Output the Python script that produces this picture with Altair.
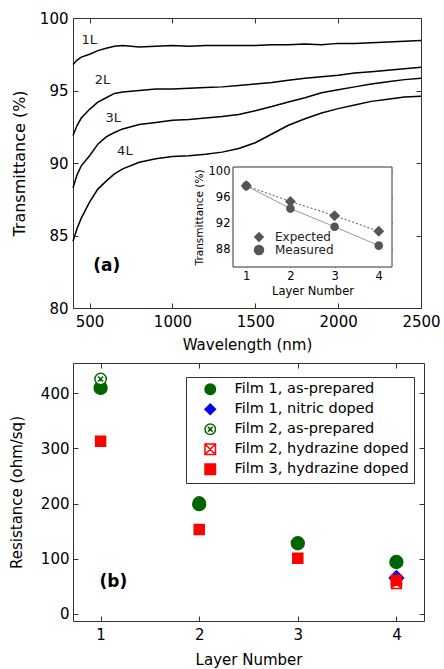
import altair as alt
import pandas as pd

FONT = "DejaVu Sans"

# ---------------- panel (a): transmittance spectra ----------------
wavelength = [400, 425, 450, 500, 550, 600, 650, 700, 800, 900, 1000, 1100, 1200,
              1300, 1400, 1500, 1600, 1700, 1800, 1900, 2000, 2100, 2200, 2300, 2400, 2500]
t_1L = [96.8, 97.1, 97.3, 97.5, 97.75, 97.92, 98.05, 98.1, 98.0, 98.05, 98.1, 98.05, 98.1,
        98.1, 98.1, 98.1, 98.15, 98.15, 98.2, 98.15, 98.25, 98.25, 98.3, 98.35, 98.4, 98.45]
t_2L = [91.9, 92.6, 93.1, 93.7, 94.2, 94.5, 94.8, 94.9, 95.0, 95.1, 95.1, 95.15, 95.2,
        95.25, 95.35, 95.45, 95.55, 95.7, 95.85, 95.95, 96.05, 96.2, 96.3, 96.4, 96.5, 96.6]
t_3L = [88.3, 89.2, 89.8, 90.5, 91.3, 91.8, 92.1, 92.35, 92.65, 92.8, 92.95, 93.0, 93.1,
        93.2, 93.35, 93.6, 93.9, 94.2, 94.5, 94.85, 95.05, 95.25, 95.45, 95.6, 95.75, 95.85]
t_4L = [84.6, 85.5, 86.2, 87.3, 88.2, 88.75, 89.25, 89.6, 90.05, 90.3, 90.45, 90.5, 90.6,
        90.75, 91.0, 91.4, 92.0, 92.6, 93.05, 93.45, 93.75, 94.0, 94.25, 94.4, 94.55, 94.6]
curve_names = ["1L", "2L", "3L", "4L"]
curve_label_x = [498, 578, 643, 713]
curve_label_y = [98.5, 95.7, 93.1, 90.8]
panel_a_label = ["(a)"]
panel_a_x = [603]
panel_a_y = [82.9]
wl_ticks = [500, 1000, 1500, 2000, 2500]
tr_ticks = [80, 85, 90, 95, 100]

# inset
layer_number = [1, 2, 3, 4]
expected = [97.8, 95.4, 93.2, 90.8]
measured = [97.8, 94.3, 91.5, 88.6]
inset_x_domain = [0.7, 4.3]
inset_y_domain = [85.3, 100.7]
inset_y_ticks = [88, 92, 96, 100]

# ---------------- panel (b): sheet resistance ----------------
res_series_order = ["Film 1, as-prepared", "Film 1, nitric doped", "Film 2, as-prepared",
                    "Film 2, hydrazine doped", "Film 3, hydrazine doped"]
res_series = ["Film 2, as-prepared",
              "Film 1, as-prepared", "Film 1, as-prepared", "Film 1, as-prepared", "Film 1, as-prepared",
              "Film 1, nitric doped",
              "Film 2, hydrazine doped",
              "Film 3, hydrazine doped", "Film 3, hydrazine doped", "Film 3, hydrazine doped", "Film 3, hydrazine doped",
              "Film 2, as-prepared"]
res_layer = [2, 1, 2, 3, 4, 4, 4, 1, 2, 3, 4, 1]
res_value = [202, 410, 199, 128, 94, 65, 55, 313, 153, 101, 61, 426]
panel_b_label = ["(b)"]
panel_b_x = [1.13]
panel_b_y = [58]
res_ticks = [0, 100, 200, 300, 400]

# ---------------- data frames ----------------
spec_rows = []
for name, vals in zip(curve_names, [t_1L, t_2L, t_3L, t_4L]):
    for w, v in zip(wavelength, vals):
        spec_rows.append({"wavelength": w, "T": v, "curve": name})
spec_df = pd.DataFrame(spec_rows)
curve_lab_df = pd.DataFrame({"wavelength": curve_label_x, "T": curve_label_y, "label": curve_names})
a_df = pd.DataFrame({"wavelength": panel_a_x, "T": panel_a_y, "label": panel_a_label})

inset_df = pd.DataFrame({
    "layer": layer_number * 2,
    "T": expected + measured,
    "series": ["Expected"] * 4 + ["Measured"] * 4,
})
frame_df = pd.DataFrame({"x0": [inset_x_domain[0]], "x1": [inset_x_domain[1]],
                         "y0": [inset_y_domain[0]], "y1": [inset_y_domain[1]]})

res_df = pd.DataFrame({"layer": res_layer, "R": res_value, "series": res_series})
b_df = pd.DataFrame({"layer": panel_b_x, "R": panel_b_y, "label": panel_b_label})

# ---------------- sizes ----------------
W1, H1 = 348, 290
W2, H2 = 351, 258
TK = 5  # main tick length (inward)
TKI = 4  # inset tick length

tick_color = "#333"


def ax(orient, values, title=None, labels=True, offset=-TK, tick=TK, **kw):
    base = dict(orient=orient, values=values, labels=labels, offset=offset, tickSize=tick,
                domain=False, grid=False, tickColor=tick_color, tickWidth=1,
                labelColor="black", titleColor="black", titleFontWeight="normal",
                labelFont=FONT, titleFont=FONT, labelFlush=False, labelOverlap=False)
    base["title"] = title
    base.update(kw)
    return alt.Axis(**base)


# ---- main panel (a)
x_a = alt.Scale(domain=[400, 2500], nice=False, zero=False)
y_a = alt.Scale(domain=[80, 100], nice=False, zero=False)

lines = alt.Chart(spec_df).mark_line(color="black", strokeWidth=1.5).encode(
    x=alt.X("wavelength:Q", scale=x_a,
            axis=ax("bottom", wl_ticks, "Wavelength (nm)", format="d", labelFontSize=15,
                    titleFontSize=15, labelPadding=6, titlePadding=8)),
    y=alt.Y("T:Q", scale=y_a,
            axis=ax("left", tr_ticks, "Transmittance (%)", labelFontSize=15,
                    titleFontSize=16, labelPadding=5, titlePadding=12)),
    detail="curve:N",
)
curve_text = alt.Chart(curve_lab_df).mark_text(font=FONT, fontSize=13, color="#222").encode(
    x=alt.X("wavelength:Q", scale=x_a, axis=ax("top", wl_ticks, labels=False)),
    y=alt.Y("T:Q", scale=y_a, axis=ax("right", tr_ticks, labels=False)),
    text="label:N",
)
a_text = alt.Chart(a_df).mark_text(font=FONT, fontSize=17, fontWeight="bold", color="black").encode(
    x=alt.X("wavelength:Q", scale=x_a, axis=None),
    y=alt.Y("T:Q", scale=y_a, axis=None),
    text="label:N",
)
main_a = alt.layer(lines, curve_text, a_text).resolve_axis(x="independent", y="independent")

# ---- inset
ix0 = 160
ix1 = 319
iy_top = 149
iy_bot = 249
x_i = alt.Scale(domain=inset_x_domain, range=[ix0, ix1], nice=False, zero=False)
y_i = alt.Scale(domain=inset_y_domain, range=[iy_bot, iy_top], nice=False, zero=False)

frame = alt.Chart(frame_df).mark_rect(fill="white", stroke=tick_color, strokeWidth=1).encode(
    x=alt.X("x0:Q", scale=x_i, axis=ax("top", layer_number, labels=False, offset=-(iy_top + TKI), tick=TKI)),
    x2="x1:Q",
    y=alt.Y("y0:Q", scale=y_i, axis=ax("right", inset_y_ticks, labels=False, offset=(ix1 - TKI) - W1, tick=TKI)),
    y2="y1:Q",
)
exp_line = alt.Chart(inset_df).transform_filter(alt.datum.series == "Expected").mark_line(
    color="#555", strokeWidth=1, strokeDash=[2, 2]).encode(
    x=alt.X("layer:Q", scale=x_i,
            axis=ax("bottom", layer_number, "Layer Number", offset=(iy_bot - TKI) - H1, tick=TKI,
                    labelFontSize=11.5, titleFontSize=11.5, labelPadding=3, titlePadding=4)),
    y=alt.Y("T:Q", scale=y_i,
            axis=ax("left", inset_y_ticks, "Transmittance (%)", offset=-(ix0 + TKI), tick=TKI,
                    labelFontSize=11.5, titleFontSize=10.5, labelPadding=3, titlePadding=4)),
)
meas_line = alt.Chart(inset_df).transform_filter(alt.datum.series == "Measured").mark_line(
    color="#999", strokeWidth=1).encode(
    x=alt.X("layer:Q", scale=x_i, axis=None),
    y=alt.Y("T:Q", scale=y_i, axis=None),
)
inset_leg = alt.Legend(orient="none", legendX=180, legendY=213, title=None, labelFont=FONT,
                       labelFontSize=12, labelColor="#222", padding=0, rowPadding=1, labelOffset=10,
                       symbolSize=110)
inset_pts = alt.Chart(inset_df).transform_calculate(
    sz="datum.series == 'Expected' ? 120 : 75"
).mark_point(filled=True, opacity=1).encode(
    x=alt.X("layer:Q", scale=x_i, axis=None),
    y=alt.Y("T:Q", scale=y_i, axis=None),
    shape=alt.Shape("series:N", scale=alt.Scale(domain=["Expected", "Measured"], range=["diamond", "circle"]),
                    legend=inset_leg),
    color=alt.Color("series:N", scale=alt.Scale(domain=["Expected", "Measured"], range=["#555", "#555"]),
                    legend=inset_leg),
    size=alt.Size("sz:Q", scale=None),
)
inset = alt.layer(frame, exp_line, meas_line, inset_pts).resolve_axis(x="independent", y="independent")

top = alt.layer(main_a, inset).resolve_scale(x="independent", y="independent").properties(width=W1, height=H1)

# ---- panel (b)
x_b = alt.Scale(domain=[0.72, 4.28], nice=False, zero=False)
y_b = alt.Scale(domain=[-13, 455], nice=False, zero=False)

circle_x = "M1,0A1,1,0,1,1,-1,0A1,1,0,1,1,1,0Z M-0.45,-0.45L0.45,0.45M-0.45,0.45L0.45,-0.45"
square_x = "M-1,-1H1V1H-1Z M-1,-1L1,1M-1,1L1,-1"

leg_b = alt.Legend(orient="none", legendX=113, legendY=14, title=None, labelFont=FONT,
                   labelFontSize=14.5, labelColor="black", padding=5, rowPadding=3,
                   labelOffset=17, symbolOffset=12, strokeColor="#333", fillColor="white",
                   symbolStrokeWidth=1.5, symbolSize=110, labelLimit=400)
pts_b = alt.Chart(res_df).transform_calculate(
    sz="datum.series == 'Film 1, as-prepared' ? 165 : datum.series == 'Film 1, nitric doped' ? 200 : "
       "datum.series == 'Film 2, as-prepared' ? 130 : 100"
).mark_point(strokeWidth=1.5, opacity=1).encode(
    x=alt.X("layer:Q", scale=x_b,
            axis=ax("bottom", layer_number, "Layer Number", labelFontSize=15, titleFontSize=15,
                    labelPadding=6, titlePadding=10)),
    y=alt.Y("R:Q", scale=y_b,
            axis=ax("left", res_ticks, "Resistance (ohm/sq)", labelFontSize=15, titleFontSize=15,
                    labelPadding=4, titlePadding=16)),
    shape=alt.Shape("series:N", scale=alt.Scale(domain=res_series_order,
                    range=["circle", "diamond", circle_x, square_x, "square"]), legend=leg_b),
    fill=alt.Fill("series:N", scale=alt.Scale(domain=res_series_order,
                  range=["#006400", "#0000ee", "#ffffff", "#ffffff", "#ff0000"]), legend=leg_b),
    stroke=alt.Stroke("series:N", scale=alt.Scale(domain=res_series_order,
                      range=["#006400", "#0000ee", "#006400", "#ff0000", "#ff0000"]), legend=leg_b),
    size=alt.Size("sz:Q", scale=None),
)
b_text = alt.Chart(b_df).mark_text(font=FONT, fontSize=17, fontWeight="bold", color="black").encode(
    x=alt.X("layer:Q", scale=x_b, axis=ax("top", layer_number, labels=False)),
    y=alt.Y("R:Q", scale=y_b, axis=ax("right", res_ticks, labels=False)),
    text="label:N",
)
bottom = alt.layer(pts_b, b_text).resolve_axis(x="independent", y="independent").properties(width=W2, height=H2)

chart = alt.vconcat(top, bottom, spacing=55, bounds="flush").resolve_scale(
    color="independent", shape="independent",
    fill="independent", stroke="independent"
).properties(
    padding={"left": 8, "top": 10, "right": 2, "bottom": 0}
).configure(font=FONT).configure_view(stroke="#333", strokeWidth=1)

chart.save("out.html", embed_options={"renderer": "svg", "actions": False})
